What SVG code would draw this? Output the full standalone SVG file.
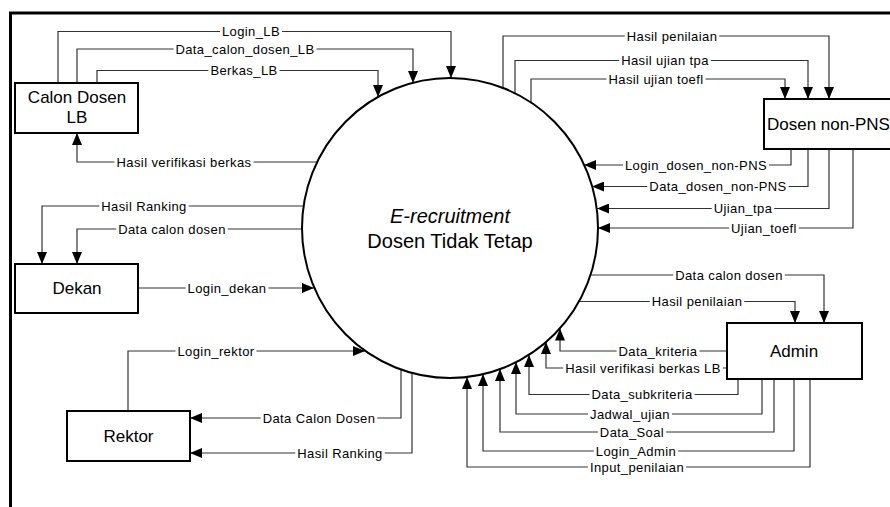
<svg xmlns="http://www.w3.org/2000/svg" width="890" height="507" viewBox="0 0 890 507">
<defs>
<marker id="arr" markerWidth="12" markerHeight="10" refX="12" refY="5" orient="auto" markerUnits="userSpaceOnUse"><path d="M0,0 L12,5 L0,10 z" fill="#000"/></marker>
<style>
.frame{fill:none;stroke:#000;stroke-width:3}
.box{fill:#fff;stroke:#000;stroke-width:2}
.proc{fill:#fff;stroke:#000;stroke-width:2}
.ln{fill:none;stroke:#333;stroke-width:1.2}
.arw{marker-end:url(#arr)}
.bg{fill:#fff;stroke:none}
.lbl{font-family:"Liberation Sans",Arial,sans-serif;font-size:13px;letter-spacing:0.4px;fill:#000;text-anchor:middle}
.nt{font-family:"Liberation Sans",Arial,sans-serif;font-size:17px;fill:#000;text-anchor:middle}
.pt{font-family:"Liberation Sans",Arial,sans-serif;font-size:20px;fill:#000;text-anchor:middle}
</style>
</defs>
<rect width="890" height="507" fill="#fff"/>
<path class="frame" d="M10.5,507 V13 H890"/>

<g id="connectors">
<path class="ln arw" d="M58,83 V31.5 H451 V78"/>
<path class="ln arw" d="M77,83 V49 H413 V83"/>
<path class="ln arw" d="M97,83 V70.5 H378 V97"/>
<path class="ln arw" d="M318,162 H77 V133"/>
<path class="ln arw" d="M304,206 H42 V264"/>
<path class="ln arw" d="M302,229 H77 V264"/>
<path class="ln arw" d="M138,288 H314"/>
<path class="ln arw" d="M128,411 V351 H365"/>
<path class="ln arw" d="M401,369 V418 H190"/>
<path class="ln arw" d="M412,373 V453 H190"/>
<path class="ln arw" d="M503,88 V36 H829 V99"/>
<path class="ln arw" d="M515,93 V60.5 H808 V99"/>
<path class="ln arw" d="M531,102 V79 H785 V99"/>
<path class="ln arw" d="M791,149 V165 H584"/>
<path class="ln arw" d="M808,149 V186.5 H592"/>
<path class="ln arw" d="M829,149 V208.5 H597"/>
<path class="ln arw" d="M853,149 V228 H598"/>
<path class="ln arw" d="M590,275 H824 V323"/>
<path class="ln arw" d="M579,301.5 H795 V323"/>
<path class="ln arw" d="M727,351 H560 V328.5"/>
<path class="ln arw" d="M727,368 H546 V342"/>
<path class="ln arw" d="M738,379 V394.5 H529 V355"/>
<path class="ln arw" d="M762,379 V414 H516 V362"/>
<path class="ln arw" d="M774,379 V432 H500 V369"/>
<path class="ln arw" d="M794,379 V451 H483 V374"/>
<path class="ln arw" d="M810,379 V467 H467 V377"/>

<rect class="bg" x="220" y="25.5" width="62" height="12"/>
<rect class="bg" x="173.5" y="43" width="143" height="12"/>
<rect class="bg" x="208.4" y="64.5" width="71.2" height="12"/>
<rect class="bg" x="114.5" y="156" width="139" height="12"/>
<rect class="bg" x="99.3" y="200" width="89.4" height="12"/>
<rect class="bg" x="116.2" y="223" width="111.6" height="12"/>
<rect class="bg" x="185.6" y="282" width="82.8" height="12"/>
<rect class="bg" x="175.5" y="345" width="81" height="12"/>
<rect class="bg" x="260.7" y="412" width="116.6" height="12"/>
<rect class="bg" x="295.3" y="447" width="89.4" height="12"/>
<rect class="bg" x="624.75" y="30" width="94.5" height="12"/>
<rect class="bg" x="619.2" y="54.5" width="91.6" height="12"/>
<rect class="bg" x="606.5" y="73" width="99" height="12"/>
<rect class="bg" x="623" y="159" width="146" height="12"/>
<rect class="bg" x="647.3" y="180.5" width="141.3" height="12"/>
<rect class="bg" x="711.75" y="202.5" width="62.5" height="12"/>
<rect class="bg" x="729.1" y="222" width="69.8" height="12"/>
<rect class="bg" x="673.2" y="269" width="111.6" height="12"/>
<rect class="bg" x="649.75" y="295.5" width="94.5" height="12"/>
<rect class="bg" x="616.55" y="345" width="82.9" height="12"/>
<rect class="bg" x="563.2" y="362" width="159.6" height="12"/>
<rect class="bg" x="589.5" y="388.5" width="105" height="12"/>
<rect class="bg" x="588" y="408" width="84" height="12"/>
<rect class="bg" x="597.85" y="426" width="68.3" height="12"/>
<rect class="bg" x="593.85" y="445" width="84.3" height="12"/>
<rect class="bg" x="587.9" y="461" width="98.2" height="12"/>

<text class="lbl" x="251" y="36">Login_LB</text>
<text class="lbl" x="245" y="53.5">Data_calon_dosen_LB</text>
<text class="lbl" x="244" y="75">Berkas_LB</text>
<text class="lbl" x="184" y="166.5">Hasil verifikasi berkas</text>
<text class="lbl" x="144" y="210.5">Hasil Ranking</text>
<text class="lbl" x="172" y="233.5">Data calon dosen</text>
<text class="lbl" x="227" y="292.5">Login_dekan</text>
<text class="lbl" x="216" y="355.5">Login_rektor</text>
<text class="lbl" x="319" y="422.5">Data Calon Dosen</text>
<text class="lbl" x="340" y="457.5">Hasil Ranking</text>
<text class="lbl" x="672" y="40.5">Hasil penilaian</text>
<text class="lbl" x="665" y="65">Hasil ujian tpa</text>
<text class="lbl" x="656" y="83.5">Hasil ujian toefl</text>
<text class="lbl" x="696" y="169.5">Login_dosen_non-PNS</text>
<text class="lbl" x="718" y="191">Data_dosen_non-PNS</text>
<text class="lbl" x="743" y="213">Ujian_tpa</text>
<text class="lbl" x="764" y="232.5">Ujian_toefl</text>
<text class="lbl" x="729" y="279.5">Data calon dosen</text>
<text class="lbl" x="697" y="306">Hasil penilaian</text>
<text class="lbl" x="658" y="355.5">Data_kriteria</text>
<text class="lbl" x="643" y="372.5">Hasil verifikasi berkas LB</text>
<text class="lbl" x="642" y="399">Data_subkriteria</text>
<text class="lbl" x="630" y="418.5">Jadwal_ujian</text>
<text class="lbl" x="632" y="436.5">Data_Soal</text>
<text class="lbl" x="636" y="455.5">Login_Admin</text>
<text class="lbl" x="637" y="471.5">Input_penilaian</text>
</g>

<g id="process">
<ellipse class="proc" cx="450" cy="228" rx="148" ry="150"/>
<text class="pt" x="450" y="223" font-style="italic">E-recruitment</text>
<text class="pt" x="450" y="248">Dosen Tidak Tetap</text>
</g>

<g id="calon-dosen-lb">
<rect class="box" x="15" y="83" width="123" height="50"/>
<text class="nt" x="77" y="103">Calon Dosen</text>
<text class="nt" x="77" y="123">LB</text>
</g>

<g id="dekan">
<rect class="box" x="15" y="264" width="123" height="49"/>
<text class="nt" x="77" y="294">Dekan</text>
</g>

<g id="rektor">
<rect class="box" x="67" y="411" width="123" height="50"/>
<text class="nt" x="128.5" y="442">Rektor</text>
</g>

<g id="dosen-non-pns">
<rect class="box" x="764" y="99" width="140" height="50"/>
<text class="nt" x="767" y="130" style="text-anchor:start">Dosen non-PNS</text>
</g>

<g id="admin">
<rect class="box" x="727" y="323" width="135" height="56"/>
<text class="nt" x="794" y="357">Admin</text>
</g>
</svg>
